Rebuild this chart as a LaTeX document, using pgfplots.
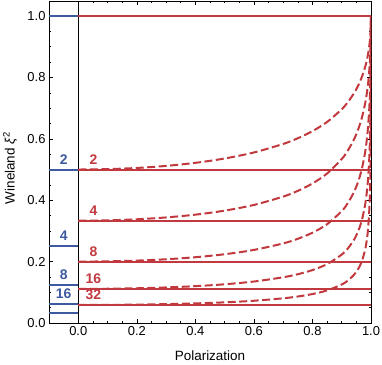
\documentclass[border=0pt]{standalone}
\usepackage{fontspec}
\setmainfont{Liberation Sans}
\usepackage{pgfplots}
\pgfplotsset{compat=1.18}
\definecolor{wred}{RGB}{193,57,62}
\definecolor{wblue}{RGB}{62,90,158}

\begin{document}
\begin{tikzpicture}
\begin{axis}[
    name=ax,
    scale only axis,
    width=322bp, height=322bp,
    xmin=-0.1, xmax=1, ymin=0, ymax=1.049,
    xtick={0,0.2,...,1}, ytick={0,0.2,...,1},
    minor x tick num=3, minor y tick num=3,
    tick align=inside,
    major tick length=4.5bp, minor tick length=2.5bp,
    xticklabel style={/pgf/number format/.cd,fixed,fixed zerofill,precision=1},
    yticklabel style={/pgf/number format/.cd,fixed,fixed zerofill,precision=1},
    /pgf/number format/assume math mode=true,
    tick label style={font=\fontsize{13}{15}\selectfont},
    label style={font=\fontsize{13.5}{16}\selectfont},
    xlabel={Polarization},
    ylabel={Wineland \textit{ξ}\textsuperscript{2}},
    xlabel style={at={(axis description cs:0.5,-0.118)}, anchor=base},
    ylabel style={at={(axis description cs:-0.121,0.481)}, anchor=center},
    axis line style={line width=0.6pt},
    every tick/.style={line width=0.5pt, black},
]
% vertical line at zero polarization
\addplot[black, line width=0.5pt] coordinates {(0,0) (0,1.049)};
% blue levels (x < 0)
\pgfplotsset{blev/.style={wblue, line width=2pt}, rlev/.style={wred, line width=2pt}}
\addplot[blev] coordinates {(-0.1,1) (0,1)};
\addplot[blev] coordinates {(-0.1,0.5) (0,0.5)};
\addplot[blev] coordinates {(-0.1,0.25) (0,0.25)};
\addplot[blev] coordinates {(-0.1,0.125) (0,0.125)};
\addplot[blev] coordinates {(-0.1,0.0625) (0,0.0625)};
\addplot[blev] coordinates {(-0.1,0.03125) (0,0.03125)};
% red levels
\addplot[rlev] coordinates {(0,1) (1,1)};
\addplot[rlev] coordinates {(0,0.5) (1,0.5)};
\addplot[rlev] coordinates {(0,0.33333) (1,0.33333)};
\addplot[rlev] coordinates {(0,0.2) (1,0.2)};
\addplot[rlev] coordinates {(0,0.11111) (1,0.11111)};
\addplot[rlev] coordinates {(0,0.05882) (1,0.05882)};
% dashed curves
\pgfplotsset{dcurve/.style={wred, line width=2pt, dash pattern=on 8bp off 3.5bp, smooth}}
\addplot[dcurve] coordinates {
(0,0.5) (0.1,0.50126) (0.2,0.5051) (0.3,0.51179) (0.4,0.52178) (0.5,0.5359)
(0.6,0.55556) (0.7,0.58338) (0.75,0.60189) (0.8,0.625) (0.85,0.65497) (0.9,0.69643)
(0.92,0.71843) (0.94,0.74562) (0.95,0.76205) (0.96,0.78125) (0.97,0.80444) (0.98,0.83403)
(0.985,0.85284) (0.99,0.87637) (0.995,0.9092) (0.998,0.94055) (0.9995,0.96935) (1,1)};
\addplot[dcurve] coordinates {
(0,0.33333) (0.1,0.33445) (0.2,0.33788) (0.3,0.34389) (0.4,0.35298) (0.5,0.36603)
(0.6,0.38462) (0.7,0.41181) (0.75,0.4305) (0.8,0.45455) (0.85,0.48696) (0.9,0.53425)
(0.92,0.56059) (0.94,0.59441) (0.95,0.61557) (0.96,0.64103) (0.97,0.67285) (0.98,0.71531)
(0.985,0.74344) (0.99,0.77995) (0.995,0.83352) (0.998,0.88777) (0.9995,0.94052) (1,1)};
\addplot[dcurve] coordinates {
(0,0.2) (0.1,0.2008) (0.2,0.20329) (0.3,0.20765) (0.4,0.21431) (0.5,0.22401)
(0.6,0.2381) (0.7,0.2593) (0.75,0.27429) (0.8,0.29412) (0.85,0.32184) (0.9,0.36449)
(0.92,0.38946) (0.94,0.42289) (0.95,0.44464) (0.96,0.4717) (0.97,0.507) (0.98,0.55679)
(0.985,0.59165) (0.99,0.63927) (0.995,0.71455) (0.998,0.79819) (0.9995,0.88772) (1,1)};
\addplot[dcurve] coordinates {
(0,0.11111) (0.1,0.11161) (0.2,0.11314) (0.3,0.11585) (0.4,0.12002) (0.5,0.12613)
(0.6,0.13514) (0.7,0.14896) (0.75,0.15894) (0.8,0.17241) (0.85,0.19178) (0.9,0.22286)
(0.92,0.24182) (0.94,0.26814) (0.95,0.28588) (0.96,0.30864) (0.97,0.33958) (0.98,0.3858)
(0.985,0.4201) (0.99,0.4698) (0.995,0.55588) (0.998,0.66415) (0.9995,0.79811) (1,1)};
\addplot[dcurve] coordinates {
(0,0.05882) (0.1,0.0591) (0.2,0.05996) (0.3,0.06149) (0.4,0.06384) (0.5,0.06731)
(0.6,0.07246) (0.7,0.08047) (0.75,0.08633) (0.8,0.09434) (0.85,0.10606) (0.9,0.1254)
(0.92,0.13754) (0.94,0.15483) (0.95,0.16678) (0.96,0.18248) (0.97,0.20452) (0.98,0.23901)
(0.985,0.2659) (0.99,0.30702) (0.995,0.38492) (0.998,0.49718) (0.9995,0.66404) (1,1)};
% labels
\begin{scope}[every node/.style={font=\fontsize{14}{16}\selectfont\bfseries, anchor=base, inner sep=0pt, yshift=5.5bp}]
\node[text=wblue] at (axis cs:-0.05,0.5) {2};
\node[text=wblue] at (axis cs:-0.05,0.25) {4};
\node[text=wblue] at (axis cs:-0.05,0.125) {8};
\node[text=wblue] at (axis cs:-0.05,0.0625) {16};
\node[text=wred] at (axis cs:0.052,0.5) {2};
\node[text=wred] at (axis cs:0.052,0.33333) {4};
\node[text=wred] at (axis cs:0.052,0.2) {8};
\node[text=wred] at (axis cs:0.052,0.11111) {16};
\node[text=wred] at (axis cs:0.052,0.05882) {32};
\end{scope}
\end{axis}
\pgfresetboundingbox
\path[use as bounding box] ([shift={(-49bp,-42bp)}]ax.south west) rectangle ([shift={(11bp,1bp)}]ax.north east);
\end{tikzpicture}
\end{document}
